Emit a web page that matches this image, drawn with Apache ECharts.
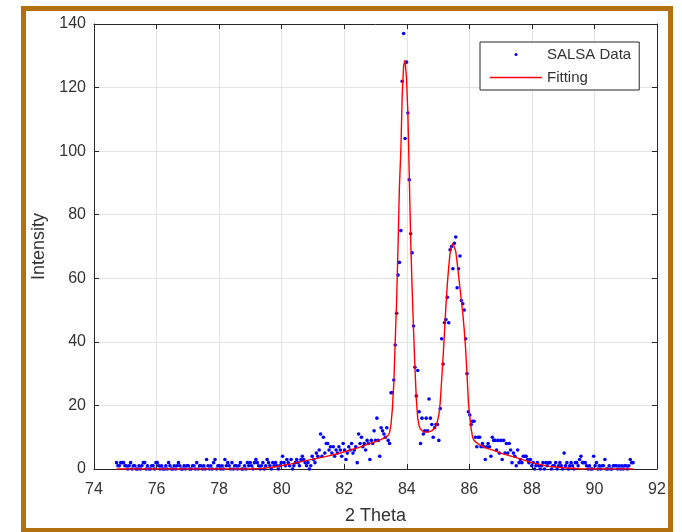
<!DOCTYPE html>
<html><head><meta charset="utf-8">
<script src="https://cdn.jsdelivr.net/npm/echarts@6/dist/echarts.min.js"></script>
<style>
html,body{margin:0;padding:0;background:#fff;}
#frame{position:absolute;left:21px;top:6px;width:652px;height:527px;box-sizing:border-box;border:5px solid #b3700f;background:#fff;}
#chart{position:absolute;left:0;top:0;width:682px;height:532px;}
</style></head>
<body>
<div id="frame"></div>
<div id="chart"></div>
<script>
// 2-theta scan grid of the measured data
const thetaStart = 74.72;
const thetaStep = 0.045;
// measured intensities (SALSA Data), one per scan step
const salsaIntensity = [
  2,1,1,2,2,2,1,1,0,1,2,0,1,1,0,0,1,0,1,2,2,0,1,0,0,1,1,0,2,
  2,1,0,1,0,0,1,0,2,1,0,0,1,0,1,2,1,0,0,1,0,1,
  1,0,0,1,1,0,2,0,1,1,0,1,0,3,1,0,1,0,2,3,0,1,
  1,0,1,0,3,1,2,1,0,2,0,1,1,0,1,2,0,0,1,0,2,1,
  2,1,0,2,3,2,1,0,1,2,0,1,3,2,1,0,2,1,2,1,0,1,2,
  4,2,1,3,2,1,3,0,1,2,3,2,1,3,4,3,2,1,2,0,1,4,
  3,2,5,4,6,11,4,10,5,8,8,6,7,5,7,4,6,5,7,6,4,8,
  6,3,5,7,6,8,5,6,7,2,11,8,10,7,8,6,9,8,3,9,8,12,9,
  16,9,4,13,12,11,10,13,9,8,24,24,
  28,39,49,61,65,75,122,137,104,128,112,91,74,68,45,32,23,31,18,8,16,11,12,16,12,22,16,14,10,13,14,14,9,
  19,41,33,46,47,54,46,69,70,63,71,73,57,63,67,53,52,50,41,30,18,17,14,15,15,10,7,10,10,7,8,7,3,7,8,7,4,10,9,9,6,9,5,9,3,9,5,
  8,5,8,6,2,5,4,1,6,2,3,2,4,4,4,3,2,3,1,2,0,1,2,1,
  0,1,2,0,2,1,2,2,0,1,1,2,0,1,2,1,0,5,1,2,0,1,2,1,0,2,2,1,3,4,2,2,2,1,0,1,0,0,4,1,2,0,1,0,1,1,3,0,0,1,0,0,1,1,1,0,1,0,1,0,1,1,0,1,3,2,2
];
// fitted curve
const fitTheta = [74.72,79.0,79.4,79.8,80.3,80.85,81.4,81.9,82.45,83.0,83.3,83.405,83.45,83.495,83.54,83.585,83.63,83.675,83.72,83.765,83.81,83.855,83.90,83.945,83.99,84.035,84.08,84.125,84.17,84.215,84.26,84.305,84.35,84.395,84.44,84.485,84.53,84.62,84.71,84.80,84.845,84.89,84.935,84.98,85.025,85.07,85.115,85.16,85.205,85.25,85.295,85.34,85.385,85.43,85.475,85.52,85.565,85.61,85.655,85.70,85.745,85.79,85.835,85.88,85.925,85.97,86.015,86.06,86.105,86.15,86.24,86.33,86.5,86.8,87.0,87.5,88.0,88.5,89.0,89.5,90.0,91.235];
const fitIntensity = [0,0,0.2,0.7,1.6,2.8,3.9,5.1,6.7,8.6,9.8,10.6,11.5,14,19,27,40,53,70,89,100,118,127,128.6,123,112,92,72,57,44,32,22,16,13.5,12.5,12,11.7,11.6,11.7,12,12.3,12.8,13.5,15,17,21,28,35,43,51,58,63.5,68,70,71,70.5,68.5,65,61,57,53,49,44,38,30,21,16.5,12.5,10,9,8.2,7.6,6.7,5.8,5.0,3.6,2.0,0.9,0.4,0.1,0,0];
const xTicks = {min: 74, max: 92, interval: 2};
const yTicks = {min: 0, max: 140, interval: 20};
const seriesNames = ['SALSA Data', 'Fitting'];

const FONT = 'Liberation Sans, Arial, Helvetica, sans-serif';
const AX = '#262626';
const TXT = '#333333';
const chart = echarts.init(document.getElementById('chart'), null, {renderer: 'canvas'});
const scatterData = salsaIntensity.map((v, i) => [+(thetaStart + i * thetaStep).toFixed(3), v]);
const fitData = fitTheta.map((x, i) => [x, fitIntensity[i]]);

const baseAxis = {
  type: 'value',
  axisLine: {show: true, onZero: false, lineStyle: {color: AX, width: 1}},
  axisTick: {show: true, inside: true, length: 5, lineStyle: {color: AX}},
};
chart.setOption({
  animation: false,
  backgroundColor: 'transparent',
  textStyle: {fontFamily: FONT},
  grid: {left: 94, right: 25, top: 24, bottom: 63, containLabel: false},
  legend: {
    orient: 'vertical', left: 480, top: 42,
    itemWidth: 52, itemHeight: 3, itemGap: 8,
    padding: [5, 8, 5, 10],
    backgroundColor: '#fff', borderColor: AX, borderWidth: 1,
    textStyle: {fontSize: 15, color: TXT, fontFamily: FONT, padding: [0, 0, 0, 0]},
    data: [
      {name: seriesNames[0], icon: 'circle', itemStyle: {color: '#0000ff'}},
      {name: seriesNames[1], icon: 'path://M0,0 L52,0 L52,1.4 L0,1.4 Z', itemStyle: {color: '#ff0000'}}
    ]
  },
  xAxis: [
    Object.assign({}, baseAxis, {
      min: xTicks.min, max: xTicks.max, interval: xTicks.interval, position: 'bottom',
      name: '2 Theta', nameLocation: 'middle', nameGap: 38,
      nameTextStyle: {fontSize: 18, color: TXT, fontFamily: FONT},
      axisLabel: {fontSize: 16, color: TXT, margin: 13, fontFamily: FONT},
      splitLine: {show: true, lineStyle: {color: '#e3e3e3', width: 1}}
    }),
    Object.assign({}, baseAxis, {
      min: xTicks.min, max: xTicks.max, interval: xTicks.interval, position: 'top',
      axisLabel: {show: false}, splitLine: {show: false}
    })
  ],
  yAxis: [
    Object.assign({}, baseAxis, {
      min: yTicks.min, max: yTicks.max, interval: yTicks.interval, position: 'left',
      name: 'Intensity', nameLocation: 'middle', nameGap: 37,
      nameTextStyle: {fontSize: 18, color: TXT, fontFamily: FONT},
      axisLabel: {fontSize: 16, color: TXT, margin: 8, fontFamily: FONT},
      splitLine: {show: true, lineStyle: {color: '#e3e3e3', width: 1}}
    }),
    Object.assign({}, baseAxis, {
      min: yTicks.min, max: yTicks.max, interval: yTicks.interval, position: 'right',
      axisLabel: {show: false}, splitLine: {show: false}
    })
  ],
  series: [
    {name: seriesNames[0], type: 'scatter', data: scatterData, symbolSize: 3.6,
     itemStyle: {color: '#0000ff', opacity: 1}, z: 2},
    {name: seriesNames[1], type: 'line', data: fitData, showSymbol: false, symbol: 'none',
     lineStyle: {color: '#ff0000', width: 1.4}, z: 3}
  ]
});
</script>
</body></html>
